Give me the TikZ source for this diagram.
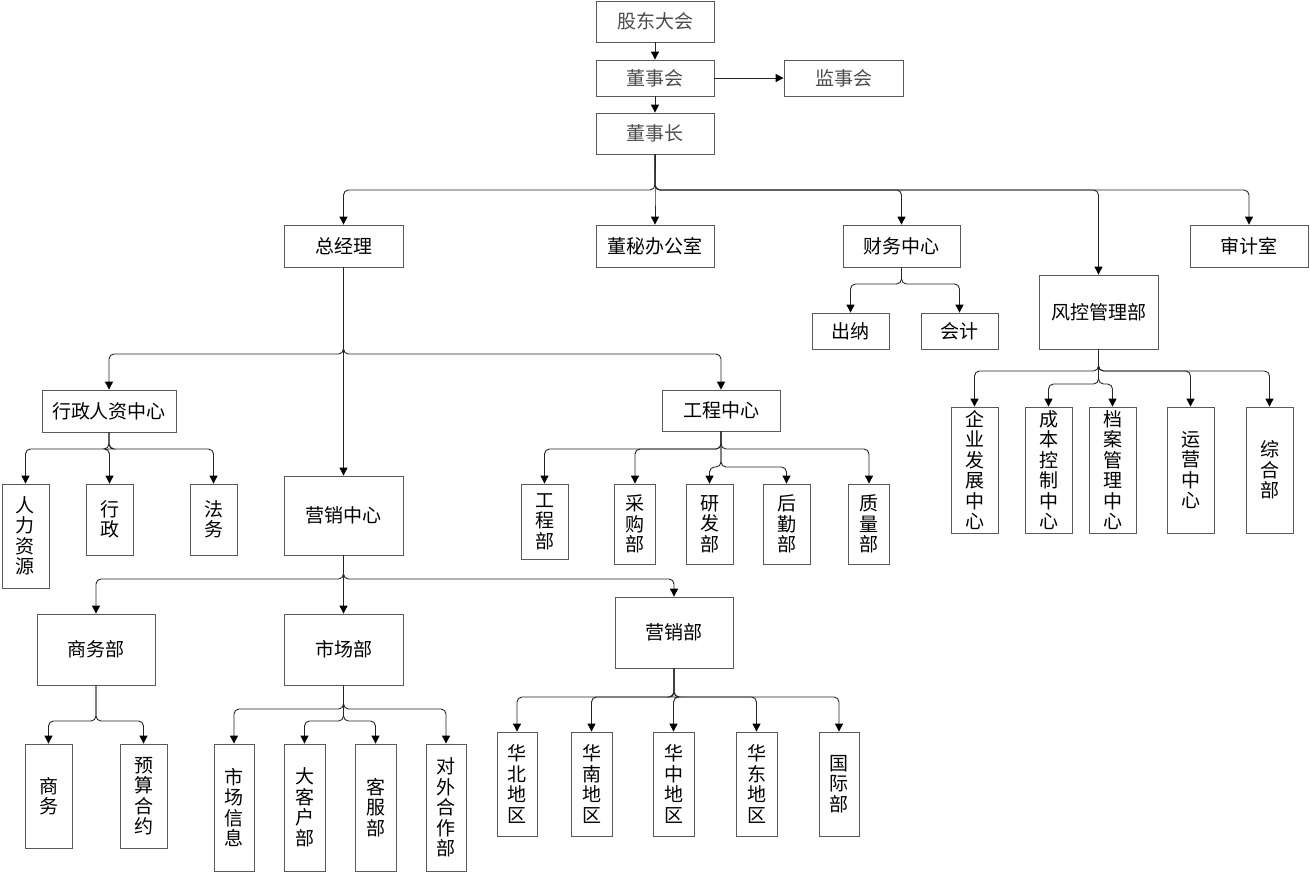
\documentclass[tikz,border=0pt]{standalone}
\usepackage{fontspec}
\setmainfont{Noto Sans CJK SC}
\usepackage{tikz}
\usetikzlibrary{arrows.meta}
\usetikzlibrary{positioning}
\tikzset{box/.style = {draw = black!65, line width = 0.8pt, fill = white, inner sep = 0, align = center,
                       font = \fontsize{19}{20.5}\selectfont}}
\tikzset{topbox/.style = {box, text = black!70}}
\tikzset{conn/.style = {draw = black!85, line width = 0.9pt, rounded corners = 5pt,
                        -{Triangle[width = 8pt, length = 8pt, black]}}}
\newcommand{\orglink}[3]{\draw [conn] (#1.south) -- (#1.south |- 0,#3) -| (#2.north);}

\begin{document}
\begin{tikzpicture}[x = 1pt, y = -1pt]
      \useasboundingbox (0, 0) rectangle (1310, 872);

      \node [topbox, minimum width = 118, minimum height = 41] (gudong) at (655, 21.5) {股东大会};
      \node [topbox, minimum width = 118, minimum height = 36] (dongshihui) at (655, 78) {董事会};
      \node [topbox, minimum width = 119, minimum height = 36] (jianshihui) at (843.5, 78) {监事会};
      \node [topbox, minimum width = 118, minimum height = 41] (dongshizhang) at (655, 133.5) {董事长};

      \node [box, minimum width = 119, minimum height = 42] (zongjingli) at (343.5, 246) {总经理};
      \node [box, minimum width = 118, minimum height = 42] (dongmi) at (655, 246) {董秘办公室};
      \node [box, minimum width = 117, minimum height = 42] (caiwu) at (901.5, 246) {财务中心};
      \node [box, minimum width = 118, minimum height = 42] (shenji) at (1249, 246) {审计室};
      \node [box, minimum width = 119, minimum height = 74] (fengkong) at (1098.5, 312) {风控管理部};

      \node [box, minimum width = 77, minimum height = 36] (chuna) at (850.5, 331) {出纳};
      \node [box, minimum width = 77, minimum height = 36] (kuaiji) at (959.5, 331) {会计};

      \node [box, minimum width = 47, minimum height = 126] (qiye) at (974.5, 470) {企\\业\\发\\展\\中\\心};
      \node [box, minimum width = 47, minimum height = 126] (chengben) at (1048.5, 470) {成\\本\\控\\制\\中\\心};
      \node [box, minimum width = 47, minimum height = 126] (dangan) at (1112.5, 470) {档\\案\\管\\理\\中\\心};
      \node [box, minimum width = 47, minimum height = 126] (yunying) at (1190.5, 470) {运\\营\\中\\心};
      \node [box, minimum width = 47, minimum height = 126] (zonghe) at (1269.5, 470) {综\\合\\部};

      \node [box, minimum width = 134, minimum height = 42] (xingzhengrz) at (109, 411) {行政人资中心};
      \node [box, minimum width = 118, minimum height = 41] (gongcheng) at (721, 410.5) {工程中心};
      \node [box, minimum width = 119, minimum height = 79] (yingxiaozx) at (343.5, 515.5) {营销中心};

      \node [box, minimum width = 47, minimum height = 104] (renli) at (25.5, 536) {人\\力\\资\\源};
      \node [box, minimum width = 47, minimum height = 71] (xingzheng) at (109.5, 519.5) {行\\政};
      \node [box, minimum width = 47, minimum height = 71] (fawu) at (213.5, 519.5) {法\\务};

      \node [box, minimum width = 47, minimum height = 75] (gcb) at (544.5, 521.5) {工\\程\\部};
      \node [box, minimum width = 41, minimum height = 80] (caigou) at (635, 524) {采\\购\\部};
      \node [box, minimum width = 47, minimum height = 80] (yanfa) at (709.5, 524) {研\\发\\部};
      \node [box, minimum width = 47, minimum height = 80] (houqin) at (786.5, 524) {后\\勤\\部};
      \node [box, minimum width = 41, minimum height = 80] (zhiliang) at (869, 524) {质\\量\\部};

      \node [box, minimum width = 118, minimum height = 71] (shangwubu) at (96, 649.5) {商务部};
      \node [box, minimum width = 119, minimum height = 71] (shichangbu) at (343.5, 649.5) {市场部};
      \node [box, minimum width = 118, minimum height = 71] (yingxiaobu) at (674, 632.5) {营销部};

      \node [box, minimum width = 47, minimum height = 104] (shangwu) at (48.5, 796) {商\\务};
      \node [box, minimum width = 47, minimum height = 104] (yusuan) at (143.5, 796) {预\\算\\合\\约};

      \node [box, minimum width = 40, minimum height = 127] (scxx) at (234, 807.5) {市\\场\\信\\息};
      \node [box, minimum width = 41, minimum height = 127] (dakehu) at (304.5, 807.5) {大\\客\\户\\部};
      \node [box, minimum width = 41, minimum height = 127] (kefu) at (375.5, 807.5) {客\\服\\部};
      \node [box, minimum width = 40, minimum height = 127] (duiwai) at (446, 807.5) {对\\外\\合\\作\\部};

      \node [box, minimum width = 40, minimum height = 104] (huabei) at (517, 784) {华\\北\\地\\区};
      \node [box, minimum width = 41, minimum height = 104] (huanan) at (591.5, 784) {华\\南\\地\\区};
      \node [box, minimum width = 41, minimum height = 104] (huazhong) at (673.5, 784) {华\\中\\地\\区};
      \node [box, minimum width = 41, minimum height = 104] (huadong) at (756.5, 784) {华\\东\\地\\区};
      \node [box, minimum width = 40, minimum height = 104] (guoji) at (839, 784) {国\\际\\部};

      \draw [conn] (gudong) -- (dongshihui);
      \draw [conn] (dongshihui) -- (dongshizhang);
      \draw [conn] (dongshihui) -- (jianshihui);

      \foreach \c in {zongjingli, dongmi, caiwu, fengkong, shenji} {\orglink{dongshizhang}{\c}{190}}
      \foreach \c in {chuna, kuaiji} {\orglink{caiwu}{\c}{284}}
      \foreach \c in {qiye, yunying, zonghe} {\orglink{fengkong}{\c}{371}}
      \foreach \c in {chengben, dangan} {\orglink{fengkong}{\c}{384}}

      \foreach \c in {xingzhengrz, yingxiaozx, gongcheng} {\orglink{zongjingli}{\c}{354}}
      \foreach \c in {renli, xingzheng, fawu} {\orglink{xingzhengrz}{\c}{449}}
      \foreach \c in {gcb, caigou, zhiliang} {\orglink{gongcheng}{\c}{449}}
      \foreach \c in {yanfa, houqin} {\orglink{gongcheng}{\c}{467}}

      \foreach \c in {shangwubu, shichangbu, yingxiaobu} {\orglink{yingxiaozx}{\c}{579}}
      \foreach \c in {shangwu, yusuan} {\orglink{shangwubu}{\c}{721}}
      \foreach \c in {scxx, duiwai} {\orglink{shichangbu}{\c}{709}}
      \foreach \c in {dakehu, kefu} {\orglink{shichangbu}{\c}{721}}
      \foreach \c in {huabei, huanan, huazhong, huadong, guoji} {\orglink{yingxiaobu}{\c}{697}}
    \end{tikzpicture}
\end{document}
